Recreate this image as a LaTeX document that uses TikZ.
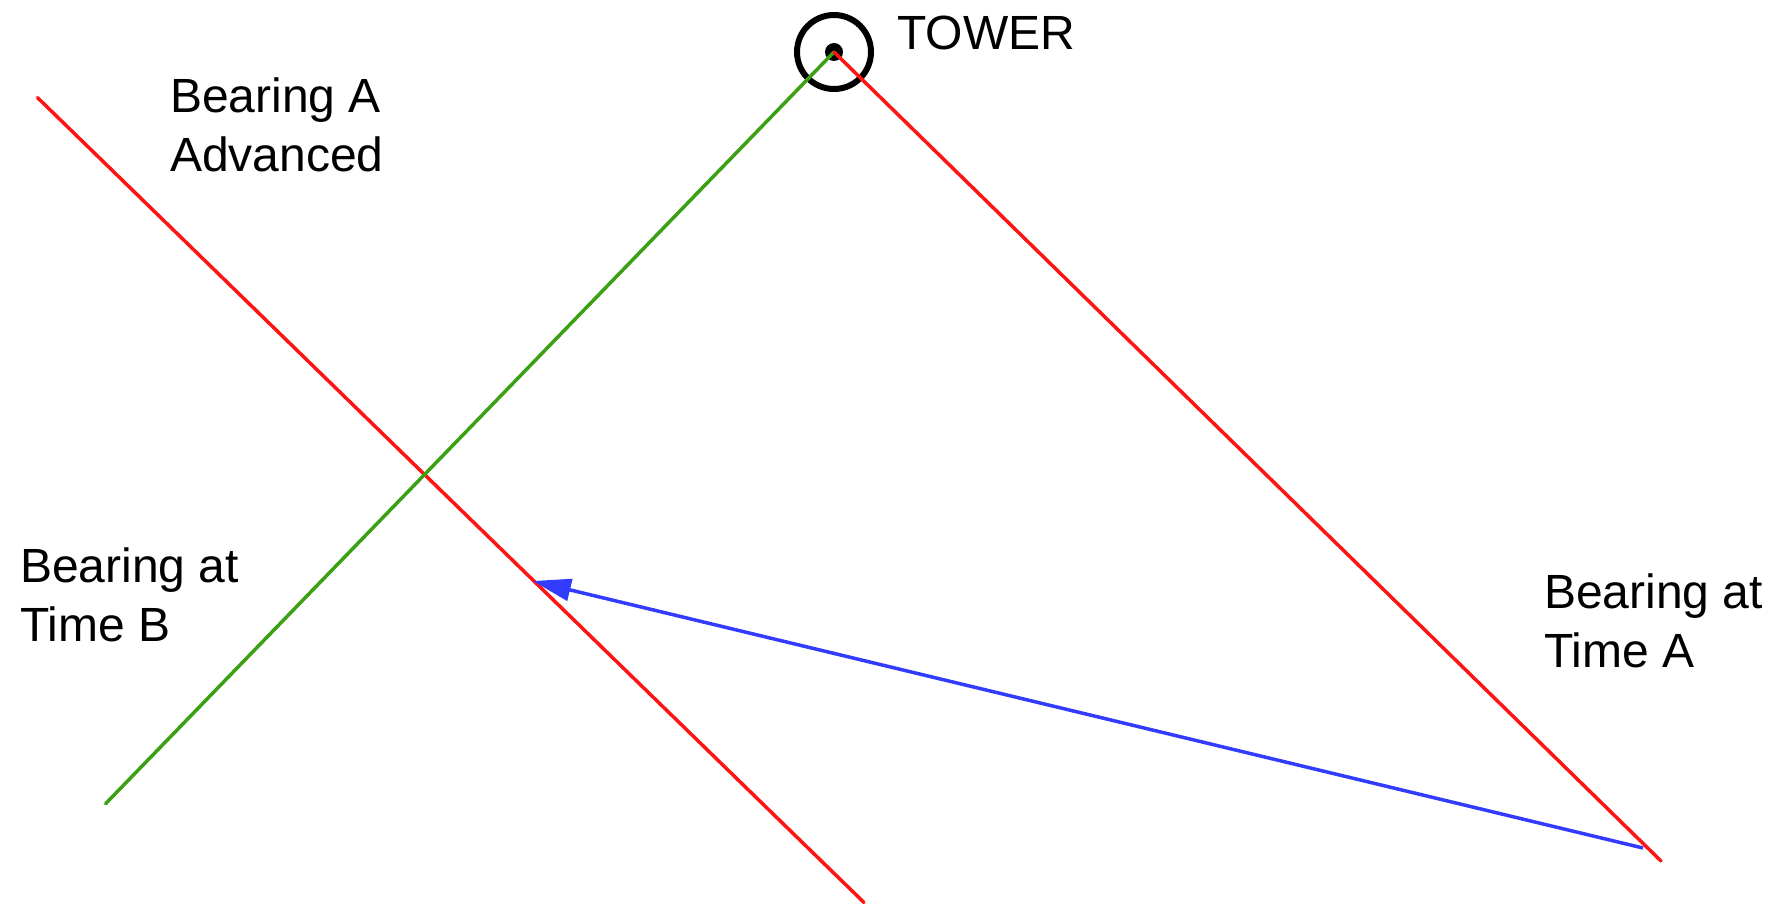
\documentclass[tikz,border=0pt]{standalone}
\usepackage{fontspec}
\setmainfont{Liberation Sans}
\usepackage{tikz}
\usetikzlibrary{positioning, arrows.meta}

\definecolor{bearred}{RGB}{255,20,20}
\definecolor{beargreen}{RGB}{60,160,20}
\definecolor{bearblue}{RGB}{50,60,255}

\begin{document}
\begin{tikzpicture}[
    x=1pt, y=-1pt,
    label/.style={inner sep=0pt, align=left, font=\fontsize{48}{59}\selectfont},
    bearing/.style={line width=3.5pt, line cap=round}
]
\useasboundingbox (0,0) rectangle (1780,907);

\coordinate (tower) at (834, 52);
\coordinate (advtop) at (37.5, 97.6);
\coordinate (advbot) at (864, 902.5);
\coordinate (bend) at (105.6, 803.7);
\coordinate (aend) at (1661, 861);
\coordinate (fixA) at (1643, 848);
\coordinate (fixB) at (533, 581);

\draw[line width=6pt] (tower) circle (37);
\fill (tower) circle (9);

\draw[bearing, bearred] (advtop) -- (advbot);
\draw[bearing, beargreen] (bend) -- (tower);
\draw[bearing, bearred] (tower) -- (aend);
\draw[line width=3.5pt, bearblue, -{Triangle[length=38pt, width=22pt]}] (fixA) -- (fixB);

\node[label, anchor=base west] (towerlbl) at (897, 50) {TOWER};
\node[label, anchor=north west] (advlbl) at (170, 78) {Bearing A\\Advanced};
\node[label, anchor=north west] (blbl) at (20, 548) {Bearing at\\Time B};
\node[label, anchor=north west] (albl) at (1544, 574) {Bearing at\\Time A};
\end{tikzpicture}
\end{document}
